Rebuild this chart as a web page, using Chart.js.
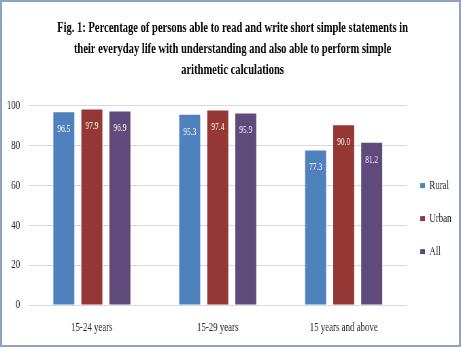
<!DOCTYPE html>
<html>
<head>
<meta charset="utf-8">
<script src="https://cdn.jsdelivr.net/npm/chart.js@4.4.1/dist/chart.umd.min.js"></script>
<style>
  html, body { margin: 0; padding: 0; background: #fff; }
  #wrap { position: relative; width: 461px; height: 348px; overflow: hidden; }
  #chart { position: absolute; left: 0; top: 0; }
  #frame { position: absolute; left: 0; top: 0; width: 461px; height: 347px;
           box-sizing: border-box; border: 2px solid #8ea3c2; pointer-events: none; }
</style>
</head>
<body>
<div id="wrap">
  <!-- laid out 678 wide, shown 461 wide: gives the narrow serif look -->
  <canvas id="chart" width="678" height="348" style="width:461px;height:348px"></canvas>
  <div id="frame"></div>
</div>
<script>
const categories = ["15-24 years", "15-29 years", "15 years and above"];
const rural = [96.5, 95.3, 77.3];
const urban = [97.9, 97.4, 90.0];
const all = [96.9, 95.9, 81.2];
const yTicks = [0, 20, 40, 60, 80, 100];
const titleLines = [
  "Fig. 1: Percentage of persons able to read and write short simple statements in",
  "their everyday life with understanding and also able to perform simple",
  "arithmetic calculations"
];

const serif = "'Liberation Serif', 'Times New Roman', serif";

// white value text just inside the top of each bar
const valueLabels = {
  id: "valueLabels",
  afterDatasetsDraw(chart) {
    const ctx = chart.ctx;
    ctx.save();
    ctx.fillStyle = "#ffffff";
    ctx.font = "11px " + serif;
    ctx.textAlign = "center";
    ctx.textBaseline = "middle";
    chart.data.datasets.forEach((ds, i) => {
      chart.getDatasetMeta(i).data.forEach((bar, j) => {
        ctx.fillText(ds.data[j].toFixed(1), bar.x, bar.y + 17);
      });
    });
    ctx.restore();
  }
};

new Chart(document.getElementById("chart"), {
  type: "bar",
  data: {
    labels: categories,
    datasets: [
      { label: "Rural", data: rural, backgroundColor: "#4f81bd" },
      { label: "Urban", data: urban, backgroundColor: "#953735" },
      { label: "All", data: all, backgroundColor: "#604a7b" }
    ]
  },
  options: {
    responsive: false,
    animation: false,
    devicePixelRatio: 1,
    categoryPercentage: 0.668,
    barPercentage: 0.75,
    layout: { padding: { left: 10, right: 4, top: 0, bottom: 0 } },
    plugins: {
      title: {
        display: true,
        text: titleLines,
        color: "#000",
        font: { family: serif, size: 15.5, weight: "bold", lineHeight: 1.36 },
        padding: { top: 17, bottom: 25 }
      },
      legend: {
        position: "right",
        labels: {
          color: "#262626",
          font: { family: serif, size: 13 },
          boxWidth: 7,
          boxHeight: 5,
          padding: 20
        },
        // empty title block pushes the legend entries down
        title: { display: true, text: "", font: { size: 1 }, padding: { top: 44, bottom: 44 } }
      },
      tooltip: { enabled: false }
    },
    scales: {
      x: {
        grid: { display: false, drawTicks: false },
        border: { display: false },
        ticks: { color: "#262626", font: { family: serif, size: 13 }, padding: 15 },
        afterFit(scale) {
          scale.paddingLeft = 0;
          scale.paddingRight = 0;
          scale.height = 43;
        }
      },
      y: {
        min: 0,
        max: 100,
        afterBuildTicks(axis) { axis.ticks = yTicks.map(v => ({ value: v })); },
        grid: { color: "#d9d9d9", drawTicks: false },
        border: { display: false },
        ticks: { color: "#262626", font: { family: serif, size: 13 }, padding: 13 },
        afterFit(scale) { scale.width = 32.5; }
      }
    }
  },
  plugins: [valueLabels]
});
</script>
</body>
</html>
